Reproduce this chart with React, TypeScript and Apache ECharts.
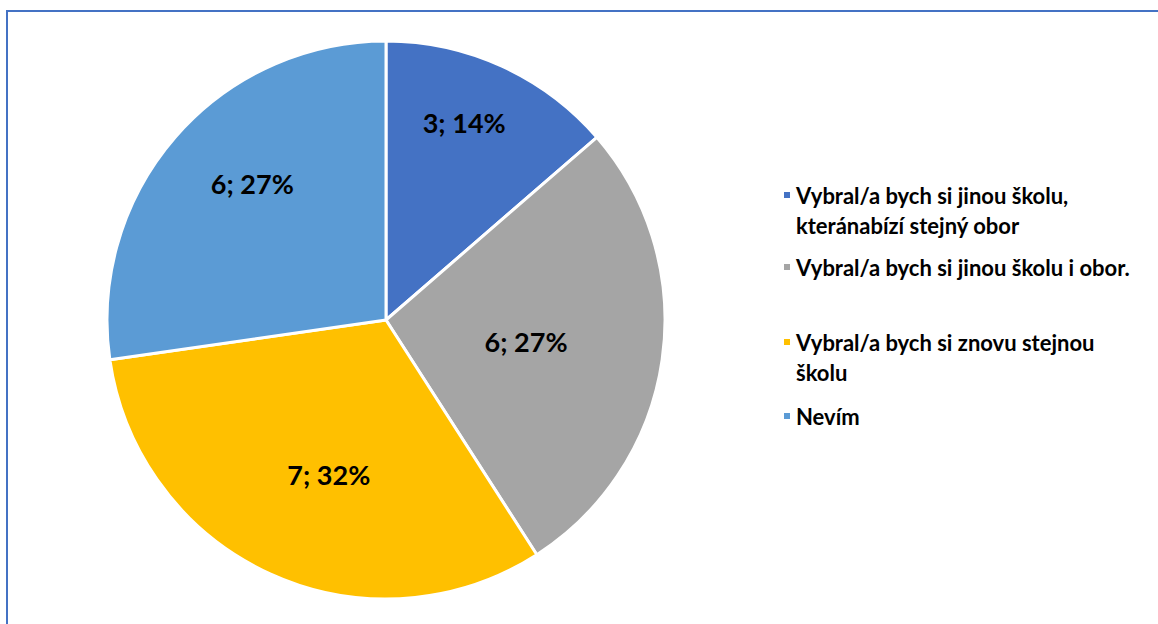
import React, { useEffect, useRef } from "react";
import * as echarts from "echarts";

const categories = [
  "Vybral/a bych si jinou školu, kteránabízí stejný obor",
  "Vybral/a bych si jinou školu i obor.",
  "Vybral/a bych si znovu stejnou školu",
  "Nevím",
];
const values = [3, 6, 7, 6];
const legendLines = [
  ["Vybral/a bych si jinou školu,", "kteránabízí stejný obor"],
  ["Vybral/a bych si jinou školu i obor."],
  ["Vybral/a bych si znovu stejnou", "školu"],
  ["Nevím"],
];

const colors = ["#4472C4", "#A5A5A5", "#FFC000", "#5B9BD5"];
const labelNudge = [
  [19, -68],
  [-1, 1],
  [2, 25],
  [-26, -43],
];
const legendIconY = [195, 267, 342, 416];
const FONT = "Lato, 'Open Sans', sans-serif";

export default function App() {
  const ref = useRef<HTMLDivElement>(null);
  useEffect(() => {
    if (!ref.current) return;
    const chart = echarts.init(ref.current, null, { renderer: "svg" });
    const total = values.reduce((a, b) => a + b, 0);
    chart.setOption({
      animation: false,
      backgroundColor: "#ffffff",
      graphic: [
        {
          type: "rect",
          silent: true,
          shape: { x: 7, y: 11, width: 1400, height: 900 },
          style: { fill: "none", stroke: "#4472C4", lineWidth: 2 },
        },
      ],
      legend: categories.map((name, i) => {
        const multi = legendLines[i].length > 1;
        return {
          data: [name],
          orient: "vertical",
          left: 782,
          top: legendIconY[i] - (multi ? 45 : 15),
          padding: 0,
          itemWidth: 8,
          itemHeight: 8,
          icon: "rect",
          selectedMode: false,
          formatter: () =>
            multi ? " \n" + legendLines[i].join("\n") : legendLines[i][0],
          textStyle: {
            fontFamily: FONT,
            fontWeight: "bold",
            fontSize: 22,
            color: "#000000",
            lineHeight: 30,
          },
        };
      }),
      series: [
        {
          type: "pie",
          center: [386, 320],
          radius: 279,
          startAngle: 90,
          clockwise: true,
          data: categories.map((n, i) => ({
            name: n,
            value: values[i],
            itemStyle: { color: colors[i] },
          })),
          itemStyle: { borderColor: "#ffffff", borderWidth: 3 },
          label: {
            position: "inside",
            formatter: (p: any) =>
              `${p.value}; ${Math.round((p.value / total) * 100)}%`,
            fontFamily: FONT,
            fontWeight: "bold",
            fontSize: 27,
            color: "#000000",
          },
          labelLine: { show: false },
          labelLayout: (p: any) => ({
            dx: labelNudge[p.dataIndex][0],
            dy: labelNudge[p.dataIndex][1],
          }),
          emphasis: { disabled: true },
        },
      ],
    });
    return () => chart.dispose();
  }, []);
  return (
    <div
      ref={ref}
      style={{ position: "absolute", left: 0, top: 0, width: 1158, height: 624 }}
    />
  );
}
